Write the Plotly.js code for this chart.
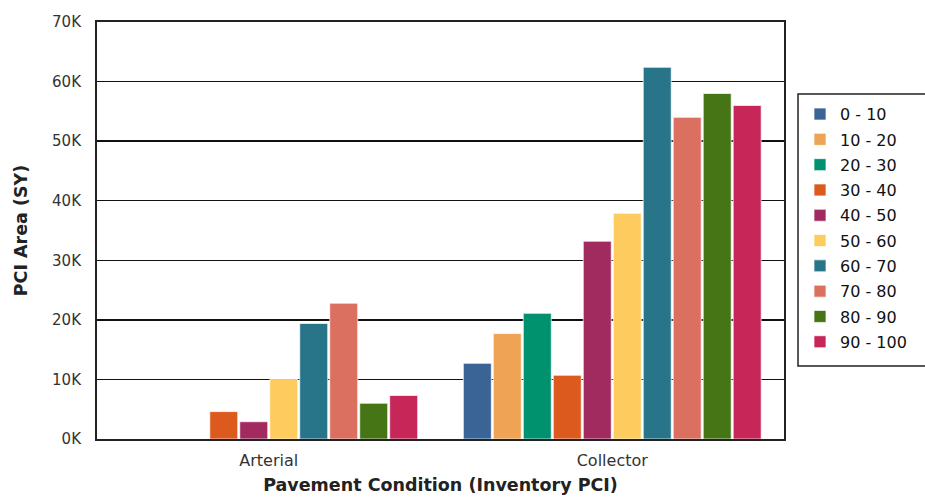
<!DOCTYPE html>
<html>
<head>
<meta charset="utf-8">
<script src="https://cdn.plot.ly/plotly-3.0.1.min.js"></script>
<style>html,body{margin:0;padding:0;background:#fff;}#chart{width:925px;height:504px;}</style>
</head>
<body>
<div id="chart"></div>
<script>
const categories = ['Arterial', 'Collector'];
const seriesNames = ['0 - 10','10 - 20','20 - 30','30 - 40','40 - 50','50 - 60','60 - 70','70 - 80','80 - 90','90 - 100'];
const v0_10   = [0, 12700];
const v10_20  = [0, 17700];
const v20_30  = [0, 21100];
const v30_40  = [4600, 10700];
const v40_50  = [2900, 33200];
const v50_60  = [10000, 37900];
const v60_70  = [19400, 62400];
const v70_80  = [22800, 54000];
const v80_90  = [6000, 58000];
const v90_100 = [7300, 56000];
const seriesValues = [v0_10, v10_20, v20_30, v30_40, v40_50, v50_60, v60_70, v70_80, v80_90, v90_100];
const colors = ['#3a6496','#efa354','#00916e','#dd5a1f','#a12b5e','#fecc5e','#28758a','#db7061','#467516','#c72659'];
const yTickVals = [0,10000,20000,30000,40000,50000,60000,70000];
const yTickText = ['0K','10K','20K','30K','40K','50K','60K','70K'];

const traces = seriesNames.map((name, i) => ({
  type: 'bar',
  name: name,
  x: categories,
  y: seriesValues[i],
  legendgroup: 'g' + i,
  marker: {color: colors[i], line: {color: 'rgba(255,255,255,0.7)', width: 1}},
  hoverinfo: 'x+y+name'
}));

const font = 'DejaVu Sans, Verdana, sans-serif';
const layout = {
  width: 925, height: 504,
  margin: {l: 97, r: 141, t: 22, b: 65, pad: 0},
  paper_bgcolor: '#fff', plot_bgcolor: '#fff',
  barmode: 'group',
  bargap: 0.127,
  bargroupgap: 0.067,
  font: {family: font, size: 15, color: '#222'},
  xaxis: {
    showline: true, linecolor: '#222', linewidth: 2, mirror: true,
    ticks: '', tickfont: {size: 16, color: '#333'}, ticklabelstandoff: 6,
    title: {text: '<b>Pavement Condition (Inventory PCI)</b>', font: {size: 17.5, color: '#222'}, standoff: 10},
    showgrid: false
  },
  yaxis: {
    range: [0, 70000],
    tickvals: yTickVals, ticktext: yTickText,
    tickfont: {size: 15, color: '#333'},
    showline: true, linecolor: '#222', linewidth: 2, mirror: true,
    showgrid: true, gridcolor: '#111', gridwidth: 1.5,
    zeroline: false,
    ticks: '', ticklabelstandoff: 11,
    title: {text: '<b>PCI Area (SY)</b>', font: {size: 17.5, color: '#222'}, standoff: 20}
  },
  legend: {
    x: 1.0233, xanchor: 'left', y: 0.8198, yanchor: 'top',
    borderwidth: 0, bgcolor: 'rgba(0,0,0,0)',
    font: {size: 16, color: '#111'},
    tracegroupgap: 1.5
  },
  shapes: [{
    type: 'rect', xref: 'paper', yref: 'paper',
    x0: 1.0204, x1: 1.215, y0: 0.1751, y1: 0.8273,
    line: {color: '#222', width: 1.5}, fillcolor: 'rgba(0,0,0,0)', layer: 'above'
  }],
  showlegend: true
};

Plotly.newPlot('chart', traces, layout, {displayModeBar: false, staticPlot: true});
</script>
</body>
</html>
